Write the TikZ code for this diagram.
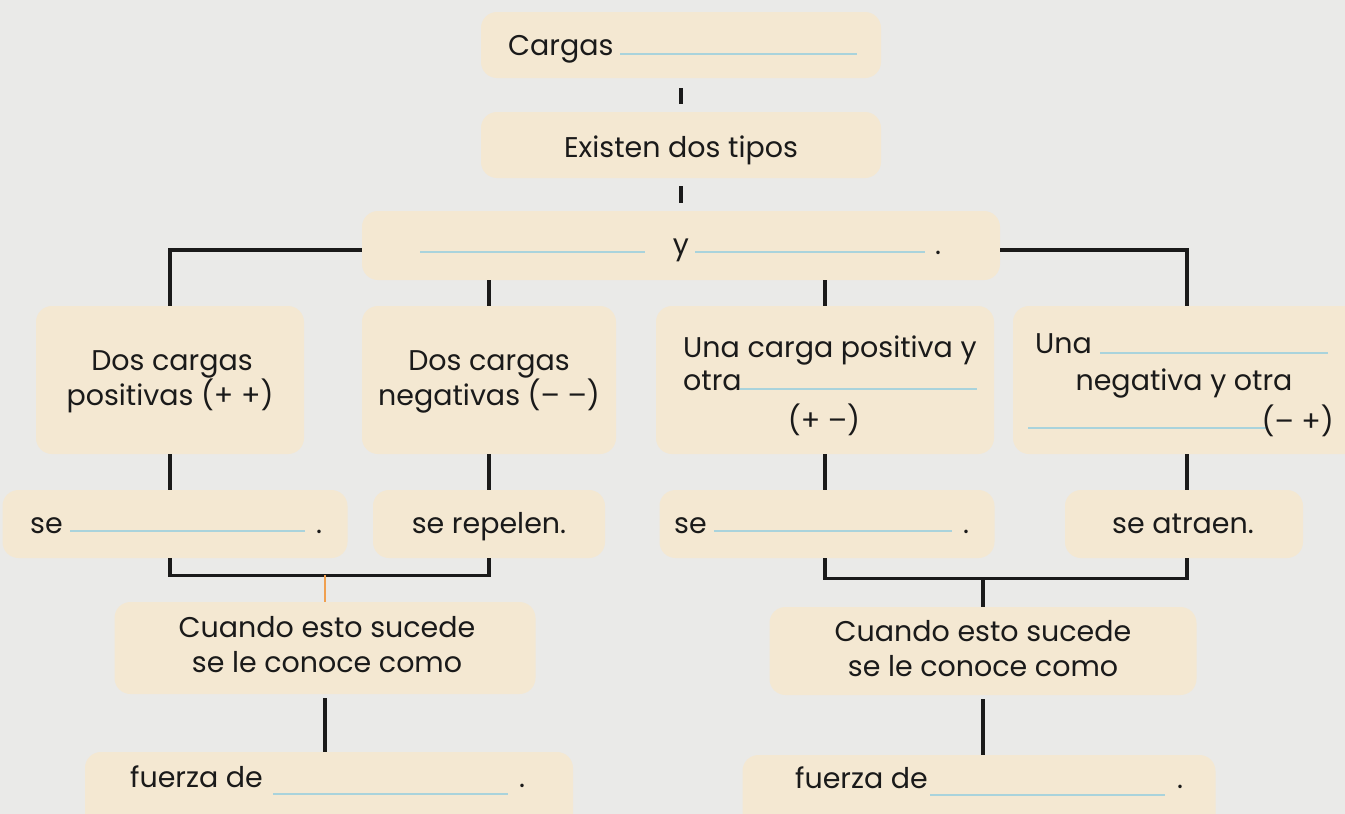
\documentclass[tikz,border=0pt]{standalone}
\usepackage{fontspec}
\setmainfont{Poppins}
\definecolor{bg}{HTML}{EAEAE8}
\definecolor{boxfill}{HTML}{F4E8D2}
\definecolor{ink}{HTML}{1A1A1A}
\definecolor{blankblue}{HTML}{A9D3DC}
\definecolor{tick}{HTML}{F0A050}
\begin{document}
\begin{tikzpicture}[x=1pt,y=-1pt,
  box/.style={fill=boxfill, rounded corners=16pt, inner sep=0pt, draw=none},
  txt/.style={font=\fontsize{28.5}{34}\selectfont, text=ink, inner sep=0pt},
  blank/.style={draw=blankblue, line width=2.4pt},
  conn/.style={draw=ink, line width=3.2pt},
  stub/.style={draw=tick, line width=2.2pt}]
\useasboundingbox (0,0) rectangle (1345,814);
\clip (0,0) rectangle (1345,814);
\fill[bg] (0,0) rectangle (1345,814);

% boxes
\node[box, minimum width=400, minimum height=66] (b1) at (681,45) {};
\node[box, minimum width=400, minimum height=66] (b2) at (681,145) {};
\node[box, minimum width=638, minimum height=69] (b3) at (681,245.5) {};
\node[box, minimum width=268, minimum height=148] (bA) at (170,380) {};
\node[box, minimum width=254, minimum height=148] (bB) at (489,380) {};
\node[box, minimum width=338, minimum height=148] (bC) at (825,380) {};
\node[box, minimum width=348, minimum height=148] (bD) at (1187,380) {};
\node[box, minimum width=345, minimum height=68] (sA) at (175,524) {};
\node[box, minimum width=232, minimum height=68] (sB) at (489,524) {};
\node[box, minimum width=335, minimum height=68] (sC) at (827,524) {};
\node[box, minimum width=238, minimum height=68] (sD) at (1184,524) {};
\node[box, minimum width=421, minimum height=92] (cL) at (325,648) {};
\node[box, minimum width=427, minimum height=88] (cR) at (983,651) {};
\node[box, minimum width=488, minimum height=80] (fL) at (329,792) {};
\node[box, minimum width=473, minimum height=80] (fR) at (979,795) {};

% texts
\node[txt, anchor=base west] (t1) at (508,55) {Cargas};
\draw[blank] (620,54) -- (857,54);
\node[txt, anchor=base] (t2) at (681,157) {Existen dos tipos};
\draw[blank] (420,252) -- (645,252);
\node[txt, anchor=base] (t3) at (681,254) {y};
\draw[blank] (695,252) -- (925,252);
\node[txt, anchor=base] (t3d) at (938,254) {.};

\node[txt, anchor=base] (tA1) at (172,370) {Dos cargas};
\node[txt, anchor=base] (tA2) at (170,405) {positivas (+ +)};
\node[txt, anchor=base] (tB1) at (489,370) {Dos cargas};
\node[txt, anchor=base] (tB2) at (489,405) {negativas (– –)};

\node[txt, anchor=base west] (tC1) at (683,357) {Una carga positiva y};
\node[txt, anchor=base west] (tC2) at (683,390) {otra};
\draw[blank] (740,389) -- (977,389);
\node[txt, anchor=base] (tC3) at (824,430) {(+ –)};

\node[txt, anchor=base west] (tD1) at (1035,353) {Una};
\draw[blank] (1100,353) -- (1328,353);
\node[txt, anchor=base] (tD2) at (1184,390) {negativa y otra};
\draw[blank] (1028,428) -- (1266,428);
\node[txt, anchor=base east] (tD3) at (1334,431) {(– +)};

\node[txt, anchor=base west] (sA1) at (30,533) {se};
\draw[blank] (70,531) -- (305,531);
\node[txt, anchor=base] (sA2) at (319,533) {.};
\node[txt, anchor=base] (sB1) at (489,533) {se repelen.};
\node[txt, anchor=base west] (sC1) at (674,533) {se};
\draw[blank] (714,531) -- (952,531);
\node[txt, anchor=base] (sC2) at (966,533) {.};
\node[txt, anchor=base] (sD1) at (1183,533) {se atraen.};

\node[txt, anchor=base] (cL1) at (327,637) {Cuando esto sucede};
\node[txt, anchor=base] (cL2) at (327,672) {se le conoce como};
\node[txt, anchor=base] (cR1) at (983,641) {Cuando esto sucede};
\node[txt, anchor=base] (cR2) at (983,676) {se le conoce como};

\node[txt, anchor=base west] (fL1) at (130,787) {fuerza de};
\draw[blank] (273,794) -- (508,794);
\node[txt, anchor=base] (fL2) at (522,787) {.};
\node[txt, anchor=base west] (fR1) at (795,788) {fuerza de};
\draw[blank] (930,795) -- (1165,795);
\node[txt, anchor=base] (fR2) at (1180,788) {.};

% connectors
\draw[conn] ([yshift=-10]b1.south) -- ([yshift=8]b2.north);
\draw[conn] ([yshift=-8]b2.south) -- ([yshift=8]b3.north);
\draw[conn] ([yshift=-4.5]b3.west) -| (bA.north);
\draw[conn] ([yshift=-4.5]b3.east) -| (bD.north);
\draw[conn] (bB.north) -- (bB.north |- b3.south);
\draw[conn] (bC.north) -- (bC.north |- b3.south);
\draw[conn] (bA.south) -- (bA.south |- sA.north);
\draw[conn] (bB.south) -- (bB.south |- sB.north);
\draw[conn] (bC.south) -- (bC.south |- sC.north);
\draw[conn] (bD.south) -- (bD.south |- sD.north);
\path (bA.south |- sA.south) ++(0,17) coordinate (brL);
\path (bC.south |- sC.south) ++(0,20) coordinate (brR);
\draw[conn] (bA.south |- sA.south) -- (brL) -| (bB.south |- sB.south);
\draw[conn] (bC.south |- sC.south) -- (brR) -| (bD.south |- sD.south);
\draw[stub] (cL.north) -- (cL.north |- brL);
\draw[conn] (cR.north) -- (cR.north |- brR);
\draw[conn] ([yshift=-4]cL.south) -- (cL.south |- fL.north);
\draw[conn] ([yshift=-4]cR.south) -- (cR.south |- fR.north);
\end{tikzpicture}
\end{document}
